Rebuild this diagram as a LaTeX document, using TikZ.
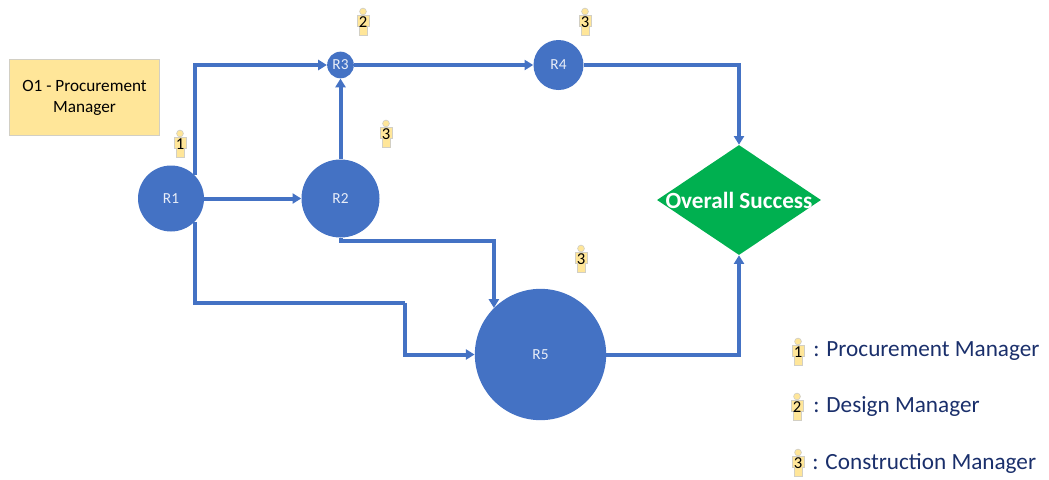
\documentclass[tikz,border=0pt]{standalone}
\usepackage{fontspec}
\setmainfont{Carlito}
\usetikzlibrary{shapes.geometric,arrows.meta}
\definecolor{rblue}{HTML}{4472C4}
\definecolor{ryellow}{HTML}{FFE699}
\definecolor{redge}{HTML}{D2CFC4}
\definecolor{rgreen}{HTML}{00B050}
\definecolor{rnavy}{HTML}{1A2F6B}
\tikzset{
  risk/.style={circle,fill=rblue,inner sep=0pt,text=white!88!rblue,font=\fontsize{11.5}{13}\selectfont},
  link/.style={draw=rblue,line width=3pt,-{Triangle[length=6.5pt,width=7.5pt]}},
  plainlink/.style={draw=rblue,line width=3pt},
  legendtext/.style={anchor=west,text=rnavy,font=\fontsize{17.4}{20}\selectfont,inner sep=0pt},
  persontext/.style={inner sep=0pt,font=\fontsize{12.5}{13}\selectfont,text=black}
}
\newcommand{\person}[3]{%
  \begin{scope}[shift={(#1,#2)}]
    \fill[ryellow,draw=redge,line width=.5pt] (0,-9.5) circle (3.4);
    \fill[ryellow,draw=redge,line width=.5pt] (-6,-5.5) -- (6,-5.5) -- (6,5) -- (4,5) -- (4,14) -- (-4,14) -- (-4,5) -- (-6,5) -- cycle;
    \node[persontext] at (0,1) {#3};
  \end{scope}}
\begin{document}
\begin{tikzpicture}[x=0.75pt,y=-0.75pt]
\useasboundingbox (0,0) rectangle (1049,479);
\node[draw=redge,fill=ryellow,line width=.6pt,minimum width=113pt,minimum height=57pt,inner sep=0pt,align=center,text=black,font=\fontsize{12.9}{15.8}\selectfont] (O1) at (84.5,97.5) {O1 - Procurement\\Manager};
\node[risk,minimum size=49.5pt] (R1) at (171,198.5) {R1};
\node[risk,minimum size=58.5pt] (R2) at (340.5,198.5) {R2};
\node[risk,minimum size=20pt] (R3) at (340.5,65) {R3};
\node[risk,minimum size=37.5pt] (R4) at (558.5,65) {R4};
\node[risk,minimum size=98.5pt] (R5) at (540.5,354.5) {R5};
\node[diamond,aspect=1.49,fill=rgreen,inner sep=0pt,minimum width=123pt,minimum height=82.5pt,text=white,font=\bfseries\fontsize{17.4}{20}\selectfont] (OS) at (739,200) {\makebox[0pt]{Overall Success}};
\coordinate (c1) at (340.5,241);
\coordinate (c3) at (405,303);
\coordinate (c4) at (405,354.5);
\draw[link] (R1.45) |- (R3.west);
\draw[link] (R1.east) -- (R2.west);
\draw[link] (R2.north) -- (R3.south);
\draw[link] (R3.east) -- (R4.west);
\draw[link] (R4.east) -| (OS.north);
\draw[link] (R2.south) -- (c1) -| (R5.135);
\draw[plainlink] (R1.-45) |- (c3);
\draw[link] (c3) -- (c4) -- (R5.west);
\draw[link] (R5.east) -| (OS.south);
\person{363}{21}{2}
\person{585}{21}{3}
\person{386}{133}{3}
\person{180}{143}{1}
\person{581}{258}{3}
\person{798}{351}{1}
\person{797}{406}{2}
\person{798}{462}{3}
\node[legendtext] (L1) at (813,351) {: Procurement Manager};
\node[legendtext] (L2) at (813,407) {: Design Manager};
\node[legendtext] (L3) at (812,463) {: Construction Manager};
\end{tikzpicture}
\end{document}
